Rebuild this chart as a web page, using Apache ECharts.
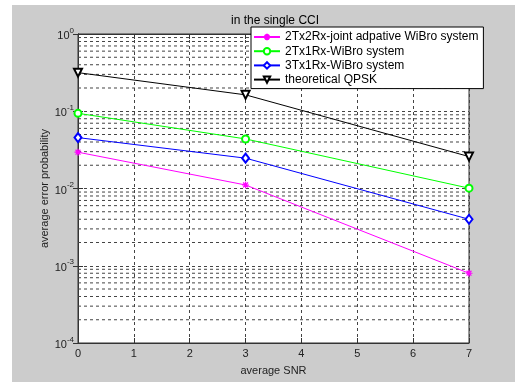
<!DOCTYPE html>
<html><head><meta charset="utf-8">
<script src="https://cdn.jsdelivr.net/npm/echarts@6/dist/echarts.min.js"></script>
<style>
html,body{margin:0;padding:0;background:#fff;}
#bg{position:absolute;left:12px;top:5px;width:503px;height:377px;background:#cccccc;}
#chart{position:absolute;left:0;top:0;width:515px;height:382px;}
</style></head><body>
<div id="bg"></div><div id="chart"></div>
<script>
// ---- data ----
const snr = [0, 3, 7];
const seriesNames = [
  '2Tx2Rx-joint adpative WiBro system',
  '2Tx1Rx-WiBro system',
  '3Tx1Rx-WiBro system',
  'theoretical QPSK'
];
const joint2x2 = [0.0295, 0.0111, 0.00080];
const wibro2x1 = [0.094, 0.0438, 0.0101];
const wibro3x1 = [0.0456, 0.0247, 0.0040];
const qpsk = [0.316, 0.163, 0.0259];
const yMin = 1e-4, yMax = 1;
const xMin = 0, xMax = 7;
const titleText = 'in the single CCI';
const xName = 'average SNR';
const yName = 'average error probability';

// minor log grid values (2..9 per decade)
const minorGrid = [];
for (let d = -4; d < 0; d++) for (let m = 2; m <= 9; m++) minorGrid.push(m * Math.pow(10, d));

const FONT = "'Liberation Sans', Arial, sans-serif";
const pair = (xs, ys) => xs.map((x, i) => [x, ys[i]]);
const asterisk = 'path://M5,0L5,10M0,5L10,5M1.5,1.5L8.5,8.5M1.5,8.5L8.5,1.5';
const gridLine = { show: true, lineStyle: { color: '#444', type: [3, 3], width: 1 } };

const minorSeries = minorGrid.map(v => ({
  type: 'line', data: [[xMin, v], [xMax, v]], silent: true, z: 1,
  symbol: 'none', lineStyle: { color: '#444', type: [3, 3], width: 1 },
  emphasis: { disabled: true }, tooltip: { show: false }
}));

const chart = echarts.init(document.getElementById('chart'), null, { renderer: 'canvas' });
chart.setOption({
  animation: false,
  backgroundColor: 'transparent',
  textStyle: { fontFamily: FONT },
  title: {
    text: titleText, left: 231, top: 15, padding: 0, z: 1,
    textStyle: { fontSize: 12, fontWeight: 'normal', color: '#000', fontFamily: FONT }
  },
  legend: {
    orient: 'vertical', left: 251, top: 27, padding: [4, 5, 3, 2],
    itemWidth: 26, itemHeight: 8, itemGap: 2.2,
    backgroundColor: '#fff', borderColor: '#000', borderWidth: 1, borderRadius: 0,
    textStyle: { fontSize: 12, color: '#000', fontFamily: FONT },
    z: 10, data: seriesNames
  },
  grid: {
    left: 78, top: 34, width: 391, height: 309, show: true,
    backgroundColor: '#fff', borderColor: '#333', borderWidth: 1
  },
  xAxis: [{
    type: 'value', min: xMin, max: xMax, interval: 1,
    axisLine: { show: true, lineStyle: { color: '#333' } },
    axisTick: { show: true, inside: true, length: 5, lineStyle: { color: '#333' } },
    axisLabel: { fontSize: 11, color: '#222', margin: 5, fontFamily: FONT },
    splitLine: gridLine,
    name: xName, nameLocation: 'middle', nameGap: 22, nameMoveOverlap: false,
    nameTextStyle: { fontSize: 11, color: '#222', fontFamily: FONT }
  }, {
    type: 'value', min: xMin, max: xMax, interval: 1, position: 'top',
    axisLine: { show: true, lineStyle: { color: '#333' } },
    axisTick: { show: true, inside: true, length: 5, lineStyle: { color: '#333' } },
    axisLabel: { show: false }, splitLine: { show: false }
  }],
  yAxis: [{
    type: 'log', logBase: 10, min: yMin, max: yMax,
    axisLine: { show: true, lineStyle: { color: '#333' } },
    axisTick: { show: true, inside: true, length: 5, lineStyle: { color: '#333' } },
    axisLabel: {
      margin: 4, color: '#222',
      formatter: v => '{b|10}{s|' + Math.round(Math.log10(v)) + '}',
      rich: {
        b: { fontSize: 11, color: '#222', fontFamily: FONT, verticalAlign: 'bottom' },
        s: { fontSize: 8, color: '#222', fontFamily: FONT, verticalAlign: 'bottom', padding: [0, 0, 7, 0] }
      }
    },
    splitLine: gridLine,
    name: yName, nameLocation: 'middle', nameGap: 28, nameRotate: 90, nameMoveOverlap: false,
    nameTextStyle: { fontSize: 11, color: '#222', fontFamily: FONT }
  }, {
    type: 'log', logBase: 10, min: yMin, max: yMax, position: 'right',
    axisLine: { show: true, lineStyle: { color: '#333' } },
    axisTick: { show: true, inside: true, length: 5, lineStyle: { color: '#333' } },
    axisLabel: { show: false }, splitLine: { show: false }
  }],
  series: minorSeries.concat([
    {
      name: seriesNames[0], type: 'line', data: pair(snr, joint2x2),
      symbol: asterisk, symbolSize: 7,
      itemStyle: { color: '#ff00ff', borderColor: '#ff00ff', borderWidth: 1.2 },
      lineStyle: { color: '#ff00ff', width: 1 }, z: 5
    },
    {
      name: seriesNames[1], type: 'line', data: pair(snr, wibro2x1),
      symbol: 'emptyCircle', symbolSize: 7,
      itemStyle: { color: '#00ff00', borderColor: '#00ff00', borderWidth: 1 },
      lineStyle: { color: '#00ff00', width: 1 }, z: 5
    },
    {
      name: seriesNames[2], type: 'line', data: pair(snr, wibro3x1),
      symbol: 'emptyDiamond', symbolSize: [7, 9],
      itemStyle: { color: '#0000ff', borderColor: '#0000ff', borderWidth: 1 },
      lineStyle: { color: '#0000ff', width: 1 }, z: 5
    },
    {
      name: seriesNames[3], type: 'line', data: pair(snr, qpsk),
      symbol: 'emptyTriangle', symbolRotate: 180, symbolSize: 8,
      itemStyle: { color: '#000', borderColor: '#000', borderWidth: 1 },
      lineStyle: { color: '#000', width: 1 }, z: 5
    }
  ])
});
</script>
</body></html>
